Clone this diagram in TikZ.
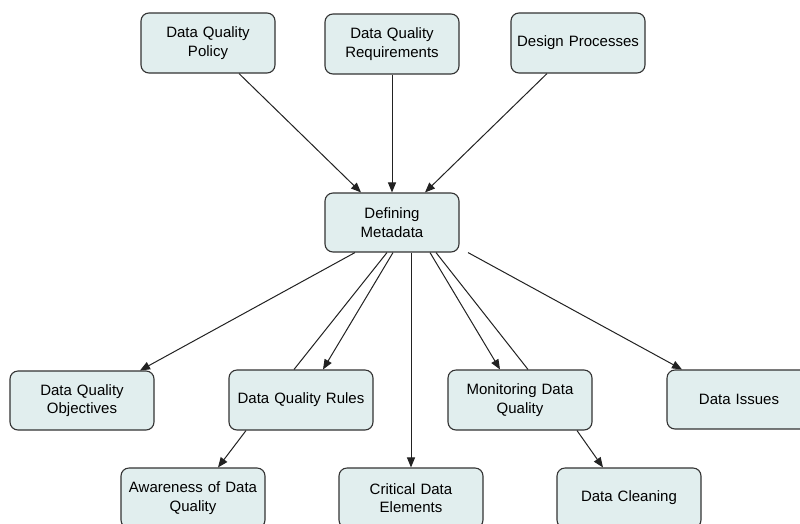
\documentclass[tikz,border=0pt]{standalone}
\usepackage{fontspec}
\setmainfont{Liberation Sans}
\usetikzlibrary{arrows.meta}
\definecolor{boxfill}{HTML}{E1EEEE}
\definecolor{boxline}{HTML}{333333}
\definecolor{edgecol}{HTML}{222222}
\tikzset{
  box/.style={draw=boxline, line width=1.1pt, fill=boxfill, rounded corners=8pt,
    minimum height=60pt, inner sep=0pt, align=center,
    font=\fontsize{15pt}{18.5pt}\selectfont},
  topbox/.style={box, minimum width=134pt, text width=128pt},
  lowbox/.style={box, minimum width=144pt, text width=138pt},
  arr/.style={draw=edgecol, line width=1pt, -{Triangle[length=10pt,width=8pt]}},
  ln/.style={draw=edgecol, line width=1pt}
}
\begin{document}
\begin{tikzpicture}[x=1pt,y=-1pt]
\clip (0,0) rectangle (800,523);
\useasboundingbox (0,0) rectangle (800,523);
\fill[white] (0,0) rectangle (800,523);
\node[topbox] (pol) at (208,43) {Data Quality\\Policy};
\node[topbox] (req) at (392,44) {Data Quality\\Requirements};
\node[topbox] (des) at (578,43) {Design Processes};
\node[topbox, minimum height=59pt] (meta) at (392,222.5) {Defining\\Metadata};
\node[lowbox, minimum height=59pt] (obj) at (82,400.5) {Data Quality\\Objectives};
\node[lowbox] (rules) at (301,400) {Data Quality Rules};
\node[lowbox] (mon) at (520,400) {Monitoring Data\\Quality};
\node[lowbox, minimum height=59pt] (iss) at (739,399.5) {Data Issues};
\node[lowbox] (aw) at (193,498) {Awareness of Data\\Quality};
\node[lowbox] (crit) at (411,498) {Critical Data\\Elements};
\node[lowbox] (clean) at (629,498) {Data Cleaning};

\draw[arr] ([xshift=31pt]pol.south) -- ([xshift=-31pt]meta.north);
\draw[arr] (req.south) -- (meta.north);
\draw[arr] ([xshift=-31pt]des.south) -- ([xshift=33pt]meta.north);
\draw[arr] ([xshift=-37pt]meta.south) -- ([xshift=58pt]obj.north);
\draw[ln] ([xshift=-5pt]meta.south) -- ([xshift=-7pt]rules.north);
\draw[arr] ([xshift=1pt]meta.south) -- ([xshift=22pt]rules.north);
\draw[arr] ([xshift=19pt]meta.south) -- ([xshift=0pt]crit.north);
\draw[arr] ([xshift=38pt]meta.south) -- ([xshift=-20pt]mon.north);
\draw[ln] ([xshift=44pt]meta.south) -- ([xshift=8pt]mon.north);
\draw[arr] ([xshift=76pt]meta.south) -- ([xshift=-57pt]iss.north);
\draw[arr] ([xshift=-55pt]rules.south) -- ([xshift=25pt]aw.north);
\draw[arr] ([xshift=57pt]mon.south) -- ([xshift=-26pt]clean.north);
\end{tikzpicture}
\end{document}
